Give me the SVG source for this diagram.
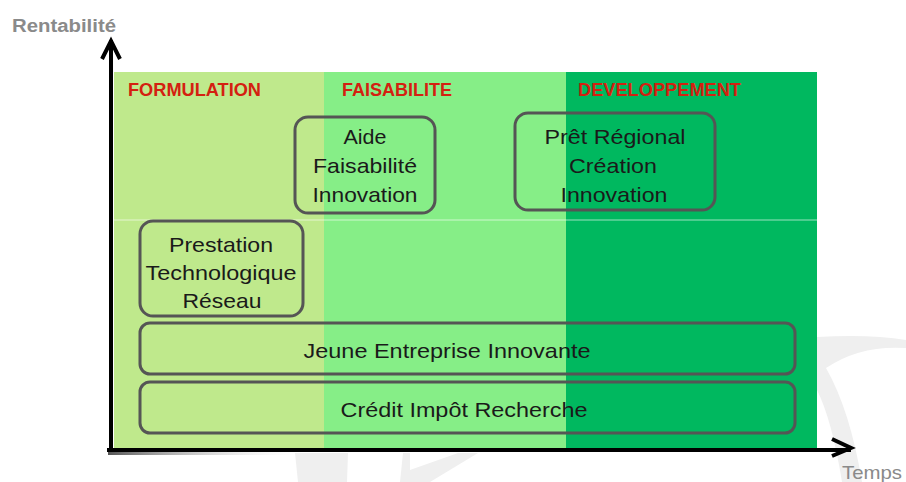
<svg xmlns="http://www.w3.org/2000/svg" width="906" height="482" viewBox="0 0 906 482">
<defs>
<linearGradient id="sh" x1="0" y1="0" x2="1" y2="0">
<stop offset="0" stop-color="#555555"/>
<stop offset="1" stop-color="#ffffff" stop-opacity="0"/>
</linearGradient>
</defs>
<style>
.box{fill:none;stroke:#555555;stroke-width:3}
.t{font-family:"Liberation Sans",Arial,sans-serif;font-size:21px;fill:#1a1a1a;text-anchor:middle}
.ph{font-family:"Liberation Sans",Arial,sans-serif;font-size:18px;font-weight:bold;fill:#d42010}
.ax{font-family:"Liberation Sans",Arial,sans-serif;fill:#8a8a8a}
.axis{stroke:#000;stroke-width:4;fill:none}
.wm{fill:#efefef}
</style>
<rect width="906" height="482" fill="#ffffff"/>
<g id="watermark">
<path class="wm" d="M817,337 Q870,334 906,340 L906,348 Q860,345 826,368 Q850,410 862,482 L842,482 Q832,420 817,390 Z"/>
<path class="wm" d="M295,453 L348,453 L347,482 L298,482 Z"/>
<path class="wm" d="M403,453 L410,453 L410,470 L458,453 L478,453 L430,482 L400,482 Z"/>
</g>
<g id="bands">
<rect x="114" y="72" width="210" height="376" fill="#bfe98c"/>
<rect x="324" y="72" width="242" height="376" fill="#86ee87"/>
<rect x="566" y="72" width="251" height="376" fill="#00b85f"/>
<line x1="114" y1="220" x2="817" y2="220" stroke="#ffffff" stroke-opacity="0.6" stroke-width="1"/>
<text class="ph" x="128" y="96" textLength="133" lengthAdjust="spacingAndGlyphs">FORMULATION</text>
<text class="ph" x="342" y="96" textLength="110" lengthAdjust="spacingAndGlyphs">FAISABILITE</text>
<text class="ph" x="578" y="96" textLength="163" lengthAdjust="spacingAndGlyphs">DEVELOPPEMENT</text>
</g>
<g id="n-aide">
<rect class="box" x="295" y="117" width="140" height="96" rx="13"/>
<text class="t" x="365" y="144" textLength="43" lengthAdjust="spacingAndGlyphs">Aide</text>
<text class="t" x="365" y="173" textLength="104" lengthAdjust="spacingAndGlyphs">Faisabilité</text>
<text class="t" x="365" y="202" textLength="105" lengthAdjust="spacingAndGlyphs">Innovation</text>
</g>
<g id="n-pret">
<rect class="box" x="515" y="113" width="200" height="97" rx="13"/>
<text class="t" x="615" y="144" textLength="141" lengthAdjust="spacingAndGlyphs">Prêt Régional</text>
<text class="t" x="613" y="173" textLength="88" lengthAdjust="spacingAndGlyphs">Création</text>
<text class="t" x="614" y="202" textLength="107" lengthAdjust="spacingAndGlyphs">Innovation</text>
</g>
<g id="n-prestation">
<rect class="box" x="140" y="221" width="163" height="95" rx="13"/>
<text class="t" x="221" y="252" textLength="104" lengthAdjust="spacingAndGlyphs">Prestation</text>
<text class="t" x="221" y="280" textLength="151" lengthAdjust="spacingAndGlyphs">Technologique</text>
<text class="t" x="222" y="308" textLength="79" lengthAdjust="spacingAndGlyphs">Réseau</text>
</g>
<g id="n-jei">
<rect class="box" x="140" y="323" width="655" height="51" rx="10"/>
<text class="t" x="447" y="358" textLength="287" lengthAdjust="spacingAndGlyphs">Jeune Entreprise Innovante</text>
</g>
<g id="n-cir">
<rect class="box" x="140" y="382" width="655" height="51" rx="10"/>
<text class="t" x="464" y="417" textLength="247" lengthAdjust="spacingAndGlyphs">Crédit Impôt Recherche</text>
</g>
<g id="connectors">
<rect x="108" y="452" width="200" height="3" fill="url(#sh)"/>
<path class="axis" d="M111,452 V40"/>
<path class="axis" d="M102,59 L111,41 L120,59"/>
<path class="axis" d="M107,450 H851"/>
<path class="axis" d="M832,439 L851,448 L832,456"/>
</g>
<text class="ax" x="12" y="32" font-size="18" font-weight="bold" textLength="104" lengthAdjust="spacingAndGlyphs">Rentabilité</text>
<text class="ax" x="842" y="479" font-size="19" textLength="60" lengthAdjust="spacingAndGlyphs">Temps</text>
</svg>
